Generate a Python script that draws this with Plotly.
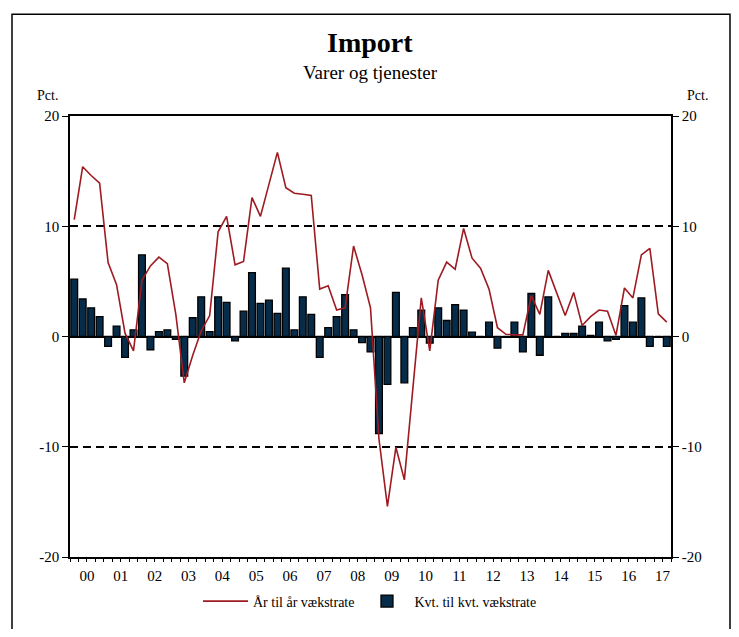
import plotly.graph_objects as go

# Quarterly data 2000K1 .. 2017K3
years = ["00", "01", "02", "03", "04", "05", "06", "07", "08", "09",
         "10", "11", "12", "13", "14", "15", "16", "17"]
quarters = [f"20{y}K{q}" for y in years for q in range(1, 5)][:71]

aar_til_aar = [
    10.6, 15.4, 14.6, 13.9, 6.7, 4.7, 0.3, -1.3,
    5.1, 6.4, 7.2, 6.6, 2.0, -4.2, -1.7, 0.5,
    1.9, 9.5, 10.9, 6.5, 6.8, 12.6, 10.9, 13.9,
    16.7, 13.5, 13.0, 12.9, 12.8, 4.3, 4.6, 2.4,
    2.6, 8.2, 5.6, 2.6, -9.3, -15.4, -10.05, -13.0,
    -4.5, 3.5, -1.3, 5.1, 6.75, 6.1, 9.8, 7.1,
    6.2, 4.3, 0.8, 0.2, 0.15, 0.15, 3.7, 2.0,
    6.0, 3.9, 1.9, 4.0, 1.0, 1.8, 2.4, 2.3,
    0.1, 4.4, 3.5, 7.4, 8.0, 2.05, 1.3,
]

kvt_til_kvt = [
    5.2, 3.4, 2.6, 1.8, -0.9, 0.95, -1.9, 0.6,
    7.4, -1.2, 0.45, 0.6, -0.25, -3.6, 1.7, 3.6,
    0.45, 3.6, 3.1, -0.4, 2.3, 5.8, 3.0, 3.3,
    2.1, 6.2, 0.6, 3.6, 2.0, -1.9, 0.8, 1.8,
    3.8, 0.6, -0.55, -1.4, -8.8, -4.35, 4.0, -4.2,
    0.8, 2.4, -0.6, 2.6, 1.45, 2.9, 2.4, 0.4,
    0.0, 1.3, -1.05, 0.0, 1.3, -1.4, 3.9, -1.7,
    3.6, 0.0, 0.27, 0.27, 0.95, 0.1, 1.3, -0.4,
    -0.25, 2.8, 1.3, 3.5, -0.9, 0.0, -0.9,
]

y_ticks = [-20, -10, 0, 10, 20]
y_ticktext = ["-20", "-10", "0", "10", "20"]

n = len(quarters)
xpos = list(range(n))
year_centers = [4 * i + 1.5 for i in range(len(years))]
year_bounds = [4 * i - 0.5 for i in range(len(years))] + [n - 0.5]
quarter_bounds = [i - 0.5 for i in range(n + 1)]

FONT = "Liberation Serif"
RED = "#9e1b22"
NAVY = "#062c4a"

# page has an 8px body margin; work in reference pixels and subtract it
OFF = 8
W, H = 739 - 2 * OFF, 637 - 2 * OFF
PL, PR, PT, PB = 70 - OFF, 671 - OFF, 116 - OFF, 562 - OFF


def px(xr):
    return (xr - OFF - PL) / (PR - PL)


def py(yr):
    return (PB - (yr - OFF)) / (PB - PT)


fig = go.Figure()
fig.add_trace(go.Bar(
    x=xpos, y=kvt_til_kvt, name="Kvt. til kvt. vækstrate",
    marker=dict(color=NAVY, line=dict(color="black", width=1.3)),
    width=0.8, legendrank=2, customdata=quarters,
))
fig.add_trace(go.Scatter(
    x=xpos, y=aar_til_aar, name="År til år vækstrate", mode="lines",
    line=dict(color=RED, width=1.6), legendrank=1, customdata=quarters,
))
fig.add_trace(go.Scatter(x=[0], y=[None], xaxis="x2", yaxis="y2",
                         showlegend=False, hoverinfo="skip"))

fig.update_layout(
    width=W, height=H,
    margin=dict(l=PL, r=W - PR, t=PT, b=H - PB),
    paper_bgcolor="white", plot_bgcolor="white",
    font=dict(family=FONT, color="black", size=14),
    showlegend=True,
    legend=dict(orientation="h", x=px(370), xanchor="center", y=py(607), yanchor="middle",
                font=dict(family=FONT, size=14), itemwidth=45,
                bgcolor="rgba(0,0,0,0)"),
    xaxis=dict(
        range=[-0.5, n - 0.5], showline=True, linecolor="black", linewidth=1.5,
        mirror=True, showgrid=False, zeroline=False,
        tickmode="array", tickvals=year_bounds, ticktext=[""] * len(year_bounds),
        ticks="outside", ticklen=7, tickwidth=1.3, tickcolor="black",
        minor=dict(tickmode="array", tickvals=quarter_bounds, ticks="outside",
                   ticklen=3, tickwidth=1, tickcolor="black", showgrid=False),
    ),
    xaxis2=dict(
        overlaying="x", anchor="y", side="bottom", range=[-0.5, n - 0.5],
        showline=False, showgrid=False, zeroline=False,
        tickmode="array", tickvals=year_centers, ticktext=years,
        ticks="outside", ticklen=5, tickcolor="rgba(0,0,0,0)",
        tickfont=dict(family=FONT, size=15),
    ),
    yaxis=dict(
        range=[-20, 20], tickmode="array", tickvals=y_ticks, ticktext=y_ticktext,
        ticks="outside", ticklen=6, tickcolor="black", tickwidth=1.3,
        showline=True, linecolor="black", linewidth=1.5,
        showgrid=True, gridcolor="black", gridwidth=1.5, griddash="8px,5px",
        zeroline=True, zerolinecolor="black", zerolinewidth=1.5,
        tickfont=dict(family=FONT, size=15),
    ),
    yaxis2=dict(
        overlaying="y", side="right", anchor="x", range=[-20, 20],
        tickmode="array", tickvals=y_ticks, ticktext=y_ticktext,
        ticks="outside", ticklen=6, tickcolor="black", tickwidth=1.3,
        showline=True, linecolor="black", linewidth=1.5,
        showgrid=False, zeroline=False,
        tickfont=dict(family=FONT, size=15),
    ),
)

for text, xr, yr, size in [
    ("<b>Import</b>", 370, 42, 28),
    ("Varer og tjenester", 370, 72, 19),
    ("Pct.", 47, 95, 14),
    ("Pct.", 697, 95, 14),
]:
    fig.add_annotation(text=text, x=px(xr), y=py(yr), xref="paper", yref="paper",
                       xanchor="center", yanchor="middle", showarrow=False,
                       font=dict(family=FONT, size=size))

# outer frame
fig.add_shape(type="rect", xref="paper", yref="paper",
              x0=px(12), x1=px(730), y0=py(660), y1=py(13),
              line=dict(color="black", width=1.5), fillcolor="rgba(0,0,0,0)",
              layer="below")

fig.write_html("out.html")
